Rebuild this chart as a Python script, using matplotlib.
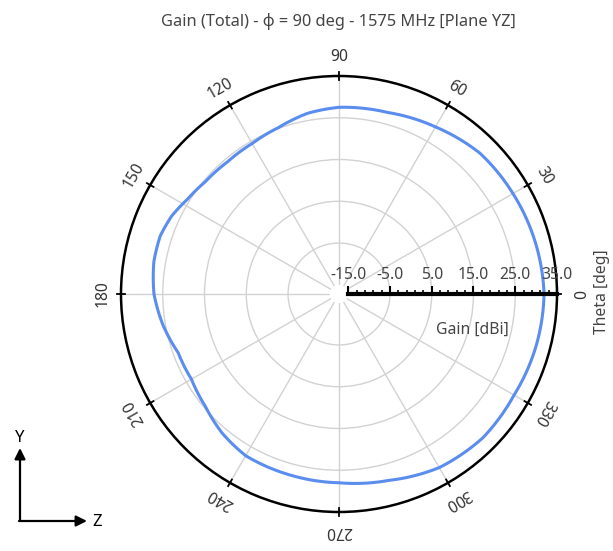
import numpy as np
import matplotlib
matplotlib.use("Agg")
import matplotlib.pyplot as plt

plt.rcParams['font.family'] = ['Noto Sans', 'DejaVu Sans']

# data
theta_deg = [0, 15, 30, 45, 60, 75, 90, 100, 110, 120, 130, 140, 148, 155, 162,
             170, 180, 190, 200, 210, 220, 230, 240, 255, 270, 285, 300, 315,
             330, 345, 360]
gain_dbi = [31.9, 31.4, 30.9, 30.5, 29.0, 27.8, 27.5, 26.7, 25.2, 24.4, 24.2,
            24.6, 25.6, 27.0, 27.8, 27.8, 27.1, 25.6, 23.8, 23.6, 24.6, 26.3,
            27.5, 27.7, 28.0, 29.0, 30.8, 31.5, 31.2, 31.6, 31.9]
angle_ticks = list(range(0, 360, 30))
gain_ticks = [-15, -5, 5, 15, 25, 35]
ring_values = [-5, 5, 15, 25]

title = "Gain (Total) - φ = 90 deg - 1575 MHz [Plane YZ]"
text_col = '#444444'
grid_col = '#d2d2d2'
fs = 11.3

W, H = 613, 551
fig = plt.figure(figsize=(W / 100, H / 100), dpi=100)

# polar area in pixels (from top-left)
cx, cy, R = 339, 294, 218
rmin, rmax = -15, 35
rorig = -17.2
ax = fig.add_axes([(cx - R) / W, (H - cy - R) / H, 2 * R / W, 2 * R / H],
                  projection='polar')
ax.set_ylim(rmin, rmax)
ax.set_rorigin(rorig)
ax.set_thetagrids(angle_ticks, labels=[])
ax.set_rgrids(ring_values, labels=[])
ax.grid(True, color=grid_col, lw=1.0)
ax.spines['polar'].set_linewidth(1.8)
ax.spines['polar'].set_color('black')
# polar draw() switches the inner spine back on, so make it invisible instead
ax.spines['inner'].set_edgecolor('none')
ax.spines['inner'].set_linewidth(0)
ax.tick_params(axis='both', length=0)

line, = ax.plot(np.deg2rad(theta_deg), gain_dbi, color='#5b8def', lw=2.2, zorder=5)
# draw segments as arcs in polar space
line.get_path()._interpolation_steps = 30

# small tick marks across the outer circle
for a in angle_ticks:
    ax.plot([np.deg2rad(a)] * 2, [rmax - 0.9, rmax + 0.9], color='black',
            lw=1.3, clip_on=False, zorder=6)

# angle labels, turned along the circle
for a in angle_ticks:
    ax.text(np.deg2rad(a), 39.5, str(a), rotation=a - 90, ha='center', va='center',
            rotation_mode='anchor', fontsize=fs, color='#333333', clip_on=False)

# radial gain scale drawn as a flat axes along theta = 0
px_per_db = R / (rmax - rorig)
x0 = cx + (rmin - rorig) * px_per_db
x1 = cx + R
sc = fig.add_axes([x0 / W, (H - cy) / H, (x1 - x0) / W, 0.0001])
sc.set_xlim(rmin, rmax)
sc.patch.set_visible(False)
for s in ['left', 'right', 'bottom']:
    sc.spines[s].set_visible(False)
sc.spines['top'].set_linewidth(3)
sc.set_yticks([])
sc.xaxis.tick_top()
sc.set_xticks(gain_ticks)
sc.set_xticklabels([f"{v:.1f}" for v in gain_ticks])
sc.set_xticks(np.arange(-15, 36, 2), minor=True)
sc.tick_params(axis='x', which='major', direction='out', length=6, width=1.5,
               pad=2, labelsize=fs, labelcolor=text_col)
sc.tick_params(axis='x', which='minor', direction='out', length=3, width=1.2)
sc.set_zorder(6)

fig.text(472 / W, 1 - 330 / H, "Gain [dBi]", ha='center', va='center',
         fontsize=fs, color=text_col)
fig.text(602 / W, 1 - 292 / H, "Theta [deg]", ha='center', va='center',
         rotation=90, fontsize=fs, color=text_col)
fig.text(338 / W, 1 - 22 / H, title, ha='center', va='center',
         fontsize=11.8, color=text_col)

# coordinate system marker
ax_arrow = dict(arrowstyle='-|>', lw=1.6, color='black', mutation_scale=16,
                shrinkA=0, shrinkB=0)
fig.add_artist(plt.Annotation('', xy=(20, H - 448), xytext=(20, H - 521),
                              xycoords='figure pixels', arrowprops=ax_arrow))
fig.add_artist(plt.Annotation('', xy=(87, H - 521), xytext=(19, H - 521),
                              xycoords='figure pixels', arrowprops=ax_arrow))
fig.text(20 / W, 1 - 438 / H, "Y", ha='center', va='center', fontsize=12)
fig.text(97 / W, 1 - 522 / H, "Z", ha='center', va='center', fontsize=12)

fig.savefig("out.png", dpi=100)
